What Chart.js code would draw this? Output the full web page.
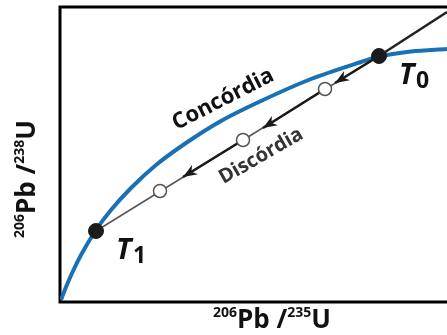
<!DOCTYPE html>
<html><head><meta charset="utf-8">
<script src="https://cdn.jsdelivr.net/npm/chart.js@4"></script>
<style>html,body{margin:0;padding:0;background:#fff;}canvas{display:block;}</style>
</head><body>
<canvas id="c" width="447" height="335"></canvas>
<script>
// ---- data (arbitrary ratio units) ----
const concordiaX = [1, 6, 13, 21, 36, 51, 71, 96, 126, 161, 201, 251, 301, 319, 351, 387];
const concordiaY = [2, 15, 31, 47, 72, 92, 114, 137, 159, 181, 201, 223, 240, 245.5, 250.5, 253];
const discordiaX = [36, 319, 387];
const discordiaY = [71, 246, 290];
const endpointX = [36, 319];
const endpointY = [71, 246];
const endpointNames = ['1', '0'];
const sampleX = [100, 183, 265];
const sampleY = [111, 162, 213];
const arrowFromX = [319, 265, 183];
const arrowFromY = [246, 213, 162];
const arrowToX = [275, 203, 123];
const arrowToY = [219, 174, 125];
const extensionX = [319, 387];
const extensionY = [246, 290];
const curveLabel = 'Concórdia';
const lineLabel = 'Discórdia';
const xTitle = [['206', true], ['Pb /', false], ['235', true], ['U', false]];
const yTitle = [['206', true], ['Pb /', false], ['238', true], ['U', false]];
const xMax = 387, yMax = 295;

const pts = (xs, ys) => xs.map((x, i) => ({x, y: ys[i]}));
const arrowSegs = [];
arrowFromX.forEach((x, i) => {
  arrowSegs.push({x, y: arrowFromY[i]});
  arrowSegs.push({x: arrowToX[i], y: arrowToY[i]});
  arrowSegs.push({x: NaN, y: null});
});

const FONT = '"Open Sans", "DejaVu Sans", sans-serif';

function drawRich(ctx, parts, x, y) {
  const base = 'bold 26px ' + FONT, sup = 'bold 14px ' + FONT;
  let w = 0;
  parts.forEach(([t, s]) => { ctx.font = s ? sup : base; w += ctx.measureText(t).width; });
  let cx = x - w / 2;
  ctx.textAlign = 'left';
  ctx.textBaseline = 'alphabetic';
  parts.forEach(([t, s]) => {
    ctx.font = s ? sup : base;
    ctx.fillText(t, cx, s ? y - 11 : y);
    cx += ctx.measureText(t).width;
  });
}

const deco = {
  id: 'deco',
  beforeDatasetsDraw(chart) {
    const {ctx, chartArea: a} = chart;
    ctx.save();
    ctx.strokeStyle = '#000';
    ctx.lineWidth = 3;
    ctx.beginPath();
    ctx.moveTo(chart.width + 2, a.top);
    ctx.lineTo(a.left, a.top);
    ctx.lineTo(a.left, a.bottom);
    ctx.lineTo(chart.width + 2, a.bottom);
    ctx.stroke();
    ctx.restore();
  },
  afterDatasetDraw(chart, args) {
    if (args.index !== 3) return;
    const {ctx} = chart;
    const xs = chart.scales.x, ys = chart.scales.y;
    ctx.save();
    ctx.fillStyle = '#1a1a1a';
    arrowToX.forEach((x, i) => {
      const tx = xs.getPixelForValue(x), ty = ys.getPixelForValue(arrowToY[i]);
      const fx = xs.getPixelForValue(arrowFromX[i]), fy = ys.getPixelForValue(arrowFromY[i]);
      const ang = Math.atan2(ty - fy, tx - fx);
      ctx.save();
      ctx.translate(tx, ty);
      ctx.rotate(ang);
      ctx.beginPath();
      ctx.moveTo(0, 0);
      ctx.lineTo(-14, -5.5);
      ctx.lineTo(-10, 0);
      ctx.lineTo(-14, 5.5);
      ctx.closePath();
      ctx.fill();
      ctx.restore();
    });
    ctx.restore();
  },
  afterDraw(chart) {
    const {ctx} = chart;
    const xs = chart.scales.x, ys = chart.scales.y;
    ctx.save();
    // curve label
    ctx.save();
    ctx.translate(226, 105);
    ctx.rotate(-27 * Math.PI / 180);
    ctx.font = 'bold 22px ' + FONT;
    ctx.fillStyle = '#111';
    ctx.textAlign = 'center';
    ctx.fillText(curveLabel, 0, 0);
    ctx.restore();
    // line label
    ctx.save();
    ctx.translate(264, 161);
    ctx.rotate(-30 * Math.PI / 180);
    ctx.font = 'bold 20px ' + FONT;
    ctx.fillStyle = '#333';
    ctx.textAlign = 'center';
    ctx.fillText(lineLabel, 0, 0);
    ctx.restore();
    // T labels
    ctx.fillStyle = '#111';
    ctx.textAlign = 'left';
    endpointX.forEach((x, i) => {
      const px = xs.getPixelForValue(x), py = ys.getPixelForValue(endpointY[i]);
      ctx.font = 'italic bold 29px ' + FONT;
      ctx.fillText('T', px + 20, py + 28);
      ctx.font = 'bold 23px ' + FONT;
      ctx.fillText(endpointNames[i], px + 37, py + 32);
    });
    // axis titles
    ctx.fillStyle = '#111';
    drawRich(ctx, xTitle, 272, 328);
    ctx.save();
    ctx.translate(35, 179);
    ctx.rotate(-Math.PI / 2);
    drawRich(ctx, yTitle, 0, 0);
    ctx.restore();
    ctx.restore();
  }
};

new Chart(document.getElementById('c'), {
  type: 'scatter',
  data: {
    datasets: [
      {data: pts(endpointX, endpointY), pointRadius: 7.5, backgroundColor: '#1c1c1c', borderColor: '#1c1c1c', borderWidth: 1, showLine: false, order: 0, clip: false},
      {data: pts(sampleX, sampleY), pointRadius: 6.5, backgroundColor: '#fff', borderColor: '#555', borderWidth: 1.5, showLine: false, order: 1},
      {data: pts(extensionX, extensionY), showLine: true, borderColor: '#222', borderWidth: 2.5, pointRadius: 0, order: 2},
      {data: arrowSegs, showLine: true, spanGaps: false, borderColor: '#1a1a1a', borderWidth: 2.6, pointRadius: 0, order: 3},
      {data: pts(discordiaX.slice(0, 2), discordiaY.slice(0, 2)), showLine: true, borderColor: '#555', borderWidth: 1.5, pointRadius: 0, order: 4},
      {data: pts(concordiaX, concordiaY), showLine: true, borderColor: '#1a70b4', borderWidth: 4, pointRadius: 0, cubicInterpolationMode: 'monotone', order: 5}
    ]
  },
  options: {
    responsive: false,
    animation: false,
    events: [],
    layout: {autoPadding: false, padding: {left: 60, top: 7, right: 0, bottom: 33}},
    scales: {
      x: {type: 'linear', min: 0, max: xMax, display: false},
      y: {type: 'linear', min: 0, max: yMax, display: false}
    },
    plugins: {legend: {display: false}, tooltip: {enabled: false}}
  },
  plugins: [deco]
});
</script>
</body></html>
